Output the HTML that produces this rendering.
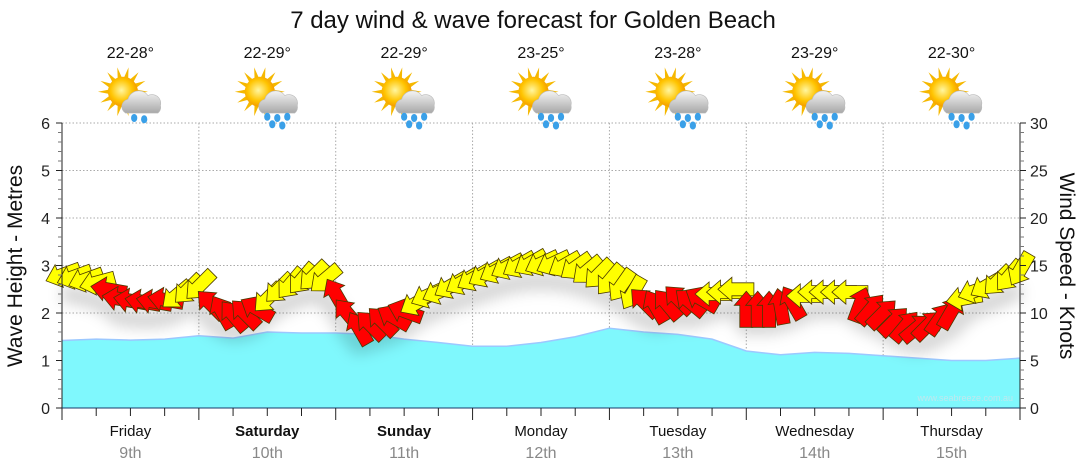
<!DOCTYPE html>
<html><head><meta charset="utf-8"><style>
body{margin:0;background:#fff;font-family:"Liberation Sans","DejaVu Sans",sans-serif}
svg{display:block}
</style></head><body>
<svg id="c" width="1080" height="475" viewBox="0 0 1080 475" xmlns="http://www.w3.org/2000/svg">
<defs>
<radialGradient id="sun" cx="0.45" cy="0.45" r="0.6"><stop offset="0" stop-color="#fff6a0"/><stop offset="0.6" stop-color="#ffc400"/><stop offset="1" stop-color="#f09000"/></radialGradient>
<linearGradient id="cloud" x1="0" y1="0" x2="0" y2="1"><stop offset="0" stop-color="#f4f4f4"/><stop offset="1" stop-color="#a8a8a8"/></linearGradient>
<filter id="sh" x="-20%" y="-20%" width="140%" height="160%"><feGaussianBlur stdDeviation="7"/></filter>
</defs>
<text x="533" y="28" text-anchor="middle" font-size="24" fill="#111">7 day wind &amp; wave forecast for Golden Beach</text>
<g id="grid"></g>
<g id="waves"></g>
<g id="wind"></g>
<g id="axes"></g>
<g id="topg"></g>
<text transform="translate(22,266) rotate(-90)" text-anchor="middle" font-size="21" fill="#111">Wave Height - Metres</text>
<text transform="translate(1060,266) rotate(90)" text-anchor="middle" font-size="21" fill="#111">Wind Speed - Knots</text>
<text x="1013" y="401" text-anchor="end" font-size="9" fill="#bfe8ee">www.seabreeze.com.au</text>
</svg>
<script>
const days = ["Friday","Saturday","Sunday","Monday","Tuesday","Wednesday","Thursday"];
const dates = ["9th","10th","11th","12th","13th","14th","15th"];
const boldDays = [false,true,true,false,false,false,false];
const temps = ["22-28°","22-29°","22-29°","23-25°","23-28°","23-29°","22-30°"];
const rainIcon = [1,2,2,2,2,2,2];
const waveTicks = [0,1,2,3,4,5,6];
const windTicks = [0,5,10,15,20,25,30];
// wave height every 6 hours
const waveHeight = [1.42,1.45,1.43,1.45, 1.52,1.47,1.6,1.58, 1.58,1.55,1.45,1.38, 1.3,1.3,1.38,1.5, 1.68,1.6,1.55,1.45, 1.2,1.12,1.17,1.15, 1.1,1.05,1.0,1.0, 1.05];
// wind every 2 hours (knots)
const windSpeed = [
 14,13.8,13.5,13.2,12.5,11.5,11.3,11.2,11.2,11.4,11.8,12.4,
 12.8,11,10.2,9.8,10,10.5,11.5,12.5,13,13.5,13.8,13.5,
 12,10,8.5,8.8,9.2,9.6,10.2,11,11.8,12.2,12.8,13.2,
 13.6,14,14.4,14.8,15,15.2,15.2,15.2,15,14.8,14.4,14,
 13.4,12.8,12,11.2,10.8,11,11.5,11.2,11.5,12,12.2,12.5,
 10.5,10.5,10.5,10.8,11.2,11.8,12.2,12.2,12.2,12.2,11,10.5,
 10,9.2,8.7,8.5,8.8,9.5,10.2,11.5,12.3,12.8,13.3,13.8, 14.5];
// wind from-direction (compass degrees)
const windDir = [
 70,70,70,75,100,100,100,100,100,100,50,45,
 45,135,150,140,135,120,45,45,40,40,45,50,
 150,140,150,135,135,120,110,60,65,65,60,60,
 60,60,62,62,60,60,65,65,60,55,50,45,
 40,35,30,135,150,140,135,130,120,90,90,90,
 180,180,180,170,150,90,90,90,90,90,200,220,
 225,225,220,230,225,215,210,80,70,60,45,40, 30];
const windClass = [
 "y","y","y","y","r","r","r","r","r","r","y","y",
 "y","r","r","r","r","r","y","y","y","y","y","y",
 "r","r","r","r","r","r","r","y","y","y","y","y",
 "y","y","y","y","y","y","y","y","y","y","y","y",
 "y","y","y","r","r","r","r","r","r","y","y","y",
 "r","r","r","r","r","y","y","y","y","y","r","r",
 "r","r","r","r","r","r","r","y","y","y","y","y", "y"];

const NS="http://www.w3.org/2000/svg";
const X0=62,X1=1020,Y0=408,Y1=123,DAYW=(X1-X0)/7;
const xH=h=>X0+h/24*DAYW;
const yW=m=>Y0-(m/6)*(Y0-Y1);
const yK=k=>Y0-(k/30)*(Y0-Y1);
function mk(tag,attrs,parent){const e=document.createElementNS(NS,tag);for(const k in attrs)e.setAttribute(k,attrs[k]);parent.appendChild(e);return e;}
const G=id=>document.getElementById(id);

// grid
const gridG=G('grid');
waveTicks.forEach(t=>{if(t>0){const l=mk('line',{x1:X0,x2:X1,y1:yW(t),y2:yW(t),stroke:'#aaa','stroke-dasharray':'1.5,2','stroke-width':1},gridG);

}});
for(let d=1;d<7;d++){const l=mk('line',{x1:xH(d*24),x2:xH(d*24),y1:Y1,y2:Y0,stroke:'#aaa','stroke-dasharray':'1.5,2','stroke-width':1},gridG);

}

// waves
const wg=G('waves');
const pts=waveHeight.map((h,i)=>[xH(i*6),yW(h)]);
const wd='M'+X0+','+Y0+' '+pts.map(p=>'L'+p[0].toFixed(1)+','+p[1].toFixed(1)).join(' ')+' L'+X1+','+Y0+'Z';
const wa=mk('path',{d:wd,fill:'#7ff8fd'},wg);


const wl=mk('polyline',{points:pts.map(p=>p.join(',')).join(' '),fill:'none',stroke:'#9cc8ff','stroke-width':1.5},wg);



// wind shadow + arrows
const windG=G('wind');
const shp=windSpeed.map((s,i)=>[xH(i*2),yK(s)+18]);
const sh=mk('polyline',{points:shp.map(p=>p.join(',')).join(' '),fill:'none',stroke:'#000','stroke-opacity':0.16,'stroke-width':18,filter:'url(#sh)'},windG);


windSpeed.forEach((s,i)=>{
  const x=xH(i*2),y=yK(s),ang=windDir[i]+90;
  const a=mk('polygon',{points:'-19,-6.5 3,-6.5 3,-12 17,0 3,12 3,6.5 -19,6.5',transform:`translate(${x.toFixed(1)},${y.toFixed(1)}) rotate(${ang})`,fill:windClass[i]==='r'?'#ff0000':'#ffff00',stroke:'#4a3a00','stroke-width':0.8},windG);
  
  
});

// axes
const ax=G('axes');
mk('line',{x1:X0,x2:X0,y1:Y1,y2:Y0,stroke:'#222'},ax);
mk('line',{x1:X1,x2:X1,y1:Y1,y2:Y0,stroke:'#222'},ax);
mk('line',{x1:X0,x2:X1,y1:Y0,y2:Y0,stroke:'#1a3a6a'},ax);
for(let m=0;m<=30;m++){const y=yW(m/5);const major=m%5===0;
  mk('line',{x1:X0-(major?6:4),x2:X0,y1:y,y2:y,stroke:major?'#222':'#777'},ax);
  mk('line',{x1:X1,x2:X1+(major?6:4),y1:y,y2:y,stroke:major?'#222':'#777'},ax);}
waveTicks.forEach(t=>{const e=mk('text',{x:50,y:yW(t)+6,'text-anchor':'end','font-size':16,fill:'#222'},ax);e.textContent=t;

});
windTicks.forEach(t=>{const e=mk('text',{x:1030,y:yK(t)+6,'font-size':16,fill:'#222'},ax);e.textContent=t;

});
for(let h=0;h<=168;h+=6){const x=xH(h);const major=h%24===0;
  mk('line',{x1:x,x2:x,y1:Y0,y2:Y0+(major?12:8),stroke:'#222'},ax);}
days.forEach((dn,i)=>{const cx=xH(i*24+12);
  const t=mk('text',{x:cx,y:436,'text-anchor':'middle','font-size':15,fill:'#111','font-weight':boldDays[i]?'bold':'normal'},ax);t.textContent=dn;
  
  
  const t2=mk('text',{x:cx,y:458,'text-anchor':'middle','font-size':16,fill:'#888'},ax);t2.textContent=dates[i];
  
  
});

// top forecasts
const topG=G('topg');
temps.forEach((tp,i)=>{const cx=xH(i*24+12);
  const t=mk('text',{x:cx,y:58,'text-anchor':'middle','font-size':16,fill:'#111'},topG);t.textContent=tp;
  
  
  const g=mk('g',{transform:`translate(${cx},98) scale(1.25)`},topG);
  
  
  for(let r=0;r<14;r++){const a=r*Math.PI*2/14;mk('polygon',{points:`${(-6+9*Math.cos(a-0.25)).toFixed(1)},${(-5+9*Math.sin(a-0.25)).toFixed(1)} ${(-6+20*Math.cos(a)).toFixed(1)},${(-5+20*Math.sin(a)).toFixed(1)} ${(-6+9*Math.cos(a+0.25)).toFixed(1)},${(-5+9*Math.sin(a+0.25)).toFixed(1)}`,fill:'#f5b800'},g);}
  mk('circle',{cx:-6,cy:-5,r:12,fill:'url(#sun)'},g);
  mk('path',{d:'M-4,12 a6,6 0 0 1 2,-11 a9,9 0 0 1 16,-3 a7,7 0 0 1 10,8 a6,6 0 0 1 -2,6 z',fill:'url(#cloud)',stroke:'#bbb','stroke-width':0.5},g);
  const drops=rainIcon[i]===1?[[3,16],[11,17]]:[[0,15],[8,16],[16,15],[4,21],[12,22]];
  drops.forEach(p=>mk('ellipse',{cx:p[0],cy:p[1],rx:2.5,ry:3.2,fill:'#3aa0e8'},g));
});
</script>
</body></html>
